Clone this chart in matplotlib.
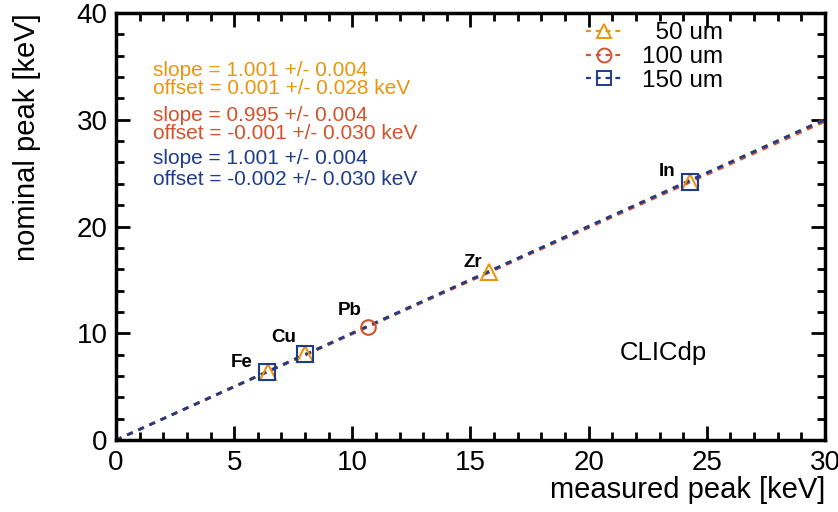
import numpy as np
import matplotlib
matplotlib.use("Agg")
import matplotlib.pyplot as plt
from matplotlib.ticker import MultipleLocator

plt.rcParams['font.family'] = ['Liberation Sans', 'DejaVu Sans']

# data
labels_50 = ["Fe", "Cu", "Zr", "In"]
meas_50 = [6.45, 8.0, 15.8, 24.3]
nom_50 = [6.40, 8.05, 15.77, 24.21]

labels_100 = ["Pb"]
meas_100 = [10.65]
nom_100 = [10.55]

labels_150 = ["Fe", "Cu", "In"]
meas_150 = [6.4, 8.0, 24.3]
nom_150 = [6.40, 8.05, 24.21]

fits = {
    "50 um": (1.001, 0.004, 0.001, 0.028),
    "100 um": (0.995, 0.004, -0.001, 0.030),
    "150 um": (1.001, 0.004, -0.002, 0.030),
}
legend_labels = ["\u200750 um", "100 um", "150 um"]

element_labels = ["Fe", "Cu", "Pb", "Zr", "In"]
element_x = [6.4, 8.05, 10.6, 15.8, 24.2]
label_offsets = [(-26, 9), (-23, 17), (-17, 16), (-17, 9), (-21, 10)]

c_orange = "#E8960F"
c_red = "#D4512B"
c_blue = "#1E3C8E"

fig = plt.figure(figsize=(8.38, 5.12), dpi=100)
ax = fig.add_axes([0.1384, 0.1406, 0.846, 0.834])

xx = np.array([0, 30])
series = [
    ("50 um", meas_50, nom_50, c_orange, "^", 12),
    ("100 um", meas_100, nom_100, c_red, "o", 10.5),
    ("150 um", meas_150, nom_150, c_blue, "s", 12),
]
handles = []
for (name, mx, ny, col, mk, ms), lab in zip(series, legend_labels):
    sl, _, off, _ = fits[name]
    ax.plot(xx, sl * xx + off, color=col, lw=2.0, ls=(0, (2.2, 2.2)), zorder=2)
    ax.plot(mx, ny, ls="none", marker=mk, ms=ms, mfc="none", mec=col, mew=1.5, zorder=3)
    h, = ax.plot([], [], color=col, lw=1.6, ls=(0, (2.2, 2.2)), marker=mk, ms=10,
                 mfc="none", mec=col, mew=1.4, label=lab)
    handles.append(h)

for lab, x, (dx, dy) in zip(element_labels, element_x, label_offsets):
    ax.annotate(lab, (x, x), xytext=(dx * 0.72, dy * 0.72), textcoords="offset points",
                ha="center", va="center", fontsize=13.5, fontweight="bold")

leg = ax.legend(handles=handles, loc="upper right", bbox_to_anchor=(0.856, 0.978),
                frameon=False, fontsize=17.5, handlelength=1.5, handletextpad=0.8,
                labelspacing=0.07, borderpad=0, borderaxespad=0)

ty = [0.8665, 0.824, 0.759, 0.717, 0.660, 0.609]
cols = [c_orange, c_orange, c_red, c_red, c_blue, c_blue]
texts = []
for name in ["50 um", "100 um", "150 um"]:
    sl, esl, off, eoff = fits[name]
    texts.append(f"slope = {sl:.3f} +/- {esl:.3f}")
    texts.append(f"offset = {off:.3f} +/- {eoff:.3f} keV")
for t, y, c in zip(texts, ty, cols):
    ax.text(0.052, y, t, transform=ax.transAxes, color=c, fontsize=15, va="center")

ax.text(0.711, 0.204, "CLICdp", transform=ax.transAxes, fontsize=18.5, va="center")

ax.set_xlim(0, 30)
ax.set_ylim(0, 40)
ax.xaxis.set_major_locator(MultipleLocator(5))
ax.xaxis.set_minor_locator(MultipleLocator(1))
ax.yaxis.set_major_locator(MultipleLocator(10))
ax.yaxis.set_minor_locator(MultipleLocator(2))
ax.tick_params(which="both", direction="in", top=True, right=True, width=2, labelsize=20)
ax.tick_params(which="major", length=10)
ax.tick_params(which="minor", length=5.5)
ax.tick_params(axis="x", pad=7)
ax.tick_params(axis="y", pad=6)
for sp in ax.spines.values():
    sp.set_linewidth(2.5)

ax.set_xlabel("measured peak [keV]", fontsize=21, loc="right", labelpad=0)
ax.set_ylabel("nominal peak [keV]", fontsize=21, loc="top", labelpad=26)

fig.savefig("out.png", dpi=100)
